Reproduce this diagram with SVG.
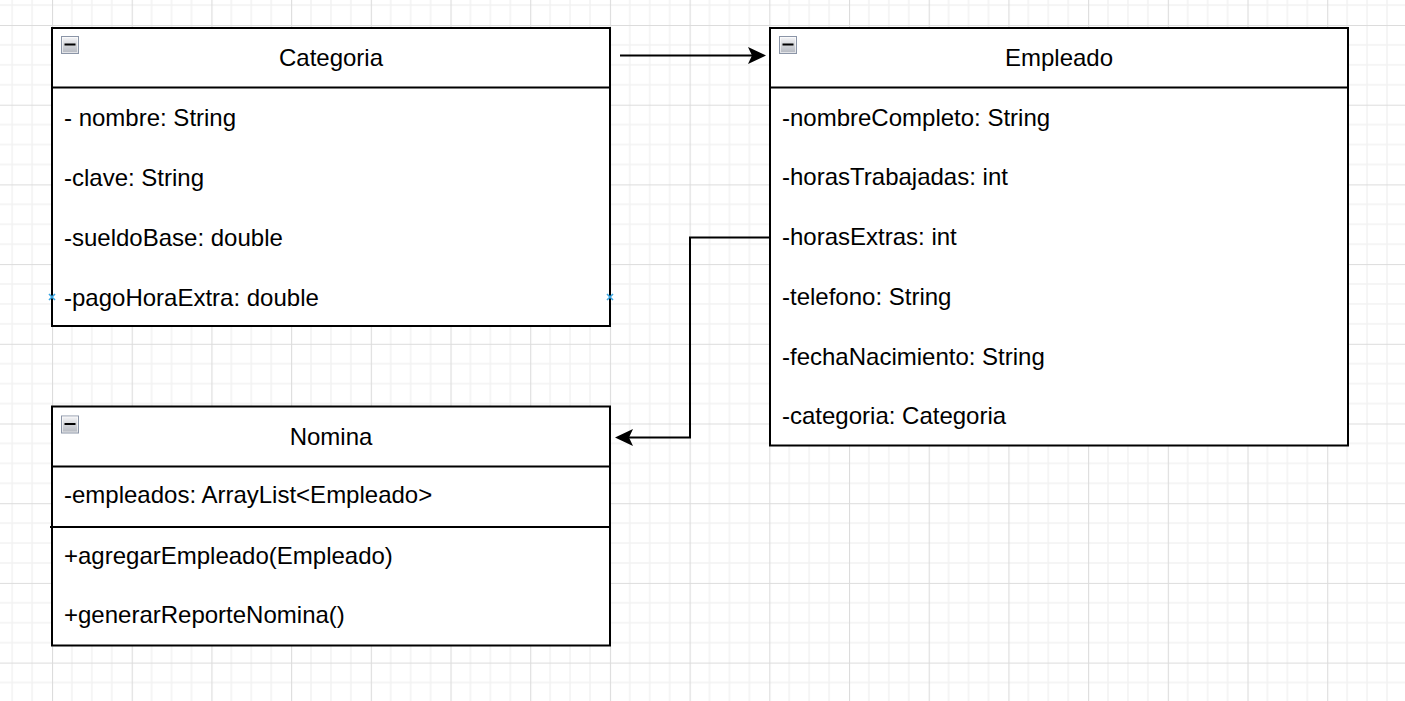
<svg xmlns="http://www.w3.org/2000/svg" width="1405" height="701" viewBox="0 0 1405 701">
  <style>
    .box { fill: #ffffff; stroke: #000000; stroke-width: 2; }
    .sep { stroke: #000000; stroke-width: 2; fill: none; }
    .edge { stroke: #000000; stroke-width: 2; fill: none; marker-end: url(#arrow); }
    .t { font-family: "Liberation Sans", Arial, Helvetica, sans-serif; font-size: 24px; fill: #000000; }
    .title { text-anchor: middle; }
    .pt { stroke: #3aa6e2; stroke-width: 1.6; fill: none; }
  </style>
  <defs>
    <pattern id="grid" patternUnits="userSpaceOnUse" x="52" y="25" width="79.7" height="79.7">
      <g stroke="#f2f2f2" stroke-width="1.5">
        <line x1="19.925" y1="0" x2="19.925" y2="79.7"/>
        <line x1="39.85" y1="0" x2="39.85" y2="79.7"/>
        <line x1="59.775" y1="0" x2="59.775" y2="79.7"/>
        <line x1="0" y1="19.925" x2="79.7" y2="19.925"/>
        <line x1="0" y1="39.85" x2="79.7" y2="39.85"/>
        <line x1="0" y1="59.775" x2="79.7" y2="59.775"/>
      </g>
      <g stroke="#dcdcdc" stroke-width="1.2">
        <line x1="0.5" y1="0" x2="0.5" y2="79.7"/>
        <line x1="0" y1="0.5" x2="79.7" y2="0.5"/>
      </g>
    </pattern>
    <linearGradient id="btn" x1="0" y1="0" x2="0" y2="1">
      <stop offset="0" stop-color="#f6f6f8"/>
      <stop offset="1" stop-color="#b2b6be"/>
    </linearGradient>
    <g id="collapse">
      <rect x="0.5" y="0.5" width="17" height="17" fill="url(#btn)" stroke="#8b95a7" stroke-width="1"/>
      <rect x="1.5" y="1.5" width="15" height="15" fill="none" stroke="#ffffff" stroke-opacity="0.6" stroke-width="1"/>
      <rect x="3.5" y="7.5" width="11" height="2" fill="#000000"/>
    </g>
    <marker id="arrow" viewBox="0 0 18 18" refX="8" refY="9" markerWidth="18" markerHeight="18" markerUnits="userSpaceOnUse" orient="auto">
      <path d="M0,0.5 L18,9 L0,17.5 L4,9 Z" fill="#000000" stroke="none"/>
    </marker>
  </defs>

  <rect x="0" y="0" width="1405" height="701" fill="#ffffff"/>
  <rect x="0" y="0" width="1405" height="701" fill="url(#grid)"/>

  <g id="connectors">
    <path class="edge" d="M620,55.5 H756"/>
    <path class="edge" d="M769,237.5 H690 V437.5 H625"/>
  </g>

  <g id="categoria">
    <rect class="box" x="52" y="28" width="558" height="298"/>
    <line class="sep" x1="52" y1="87.5" x2="610" y2="87.5"/>
    <use href="#collapse" x="61" y="36"/>
    <text class="t title" x="331" y="66">Categoria</text>
    <text class="t" x="64" y="125.5">- nombre: String</text>
    <text class="t" x="64" y="185.5">-clave: String</text>
    <text class="t" x="64" y="245.5">-sueldoBase: double</text>
    <text class="t" x="64" y="305.5">-pagoHoraExtra: double</text>
    <path class="pt" d="M49,294 l6,6 M55,294 l-6,6"/>
    <path class="pt" d="M607,294 l6,6 M613,294 l-6,6"/>
  </g>

  <g id="empleado">
    <rect class="box" x="770" y="28" width="578" height="417.5"/>
    <line class="sep" x1="770" y1="87.5" x2="1348" y2="87.5"/>
    <use href="#collapse" x="779" y="36"/>
    <text class="t title" x="1059" y="66">Empleado</text>
    <text class="t" x="782" y="125.5">-nombreCompleto: String</text>
    <text class="t" x="782" y="185">-horasTrabajadas: int</text>
    <text class="t" x="782" y="245">-horasExtras: int</text>
    <text class="t" x="782" y="305">-telefono: String</text>
    <text class="t" x="782" y="364.5">-fechaNacimiento: String</text>
    <text class="t" x="782" y="424">-categoria: Categoria</text>
  </g>

  <g id="nomina">
    <rect class="box" x="52" y="406.5" width="558" height="239"/>
    <line class="sep" x1="52" y1="466.5" x2="610" y2="466.5"/>
    <line class="sep" x1="50" y1="527" x2="609" y2="527"/>
    <use href="#collapse" x="61" y="415.5"/>
    <text class="t title" x="331" y="445">Nomina</text>
    <text class="t" x="64" y="503">-empleados: ArrayList&lt;Empleado&gt;</text>
    <text class="t" x="64" y="564">+agregarEmpleado(Empleado)</text>
    <text class="t" x="64" y="623">+generarReporteNomina()</text>
  </g>
</svg>
